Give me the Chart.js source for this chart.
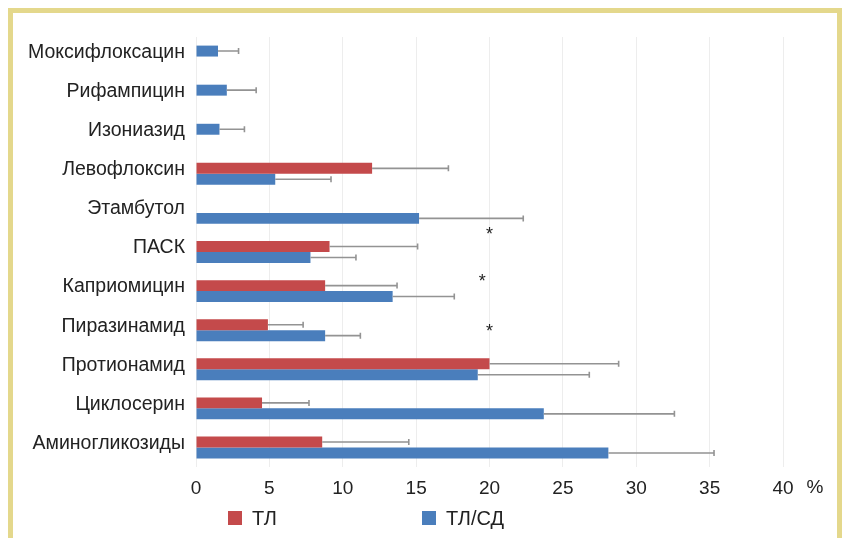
<!DOCTYPE html>
<html>
<head>
<meta charset="utf-8">
<script src="https://cdn.jsdelivr.net/npm/chart.js@4"></script>
<style>
  html, body { margin: 0; padding: 0; width: 843px; height: 538px; overflow: hidden; background: #fff; }
  .frame { position: absolute; left: 8px; top: 8px; width: 834px; height: 600px; border: 5px solid #e4d88c; box-sizing: border-box; }
  #wrap { position: absolute; left: 0; top: 0; width: 843px; height: 538px; }
</style>
</head>
<body>
<div class="frame"></div>
<div id="wrap"><canvas id="chart" width="843" height="538"></canvas></div>
<script>
// Drug categories, top to bottom
const categories = ['Моксифлоксацин', 'Рифампицин', 'Изониазид', 'Левофлоксин', 'Этамбутол', 'ПАСК',
  'Каприомицин', 'Пиразинамид', 'Протионамид', 'Циклосерин', 'Аминогликозиды'];

// ТЛ group: mean % and standard deviation (null = not reported)
const tlValues = [null, null, null, 12.0, 0, 9.1, 8.8, 4.9, 20.0, 4.5, 8.6];
const tlErrors = [null, null, null, 5.2, null, 6.0, 4.9, 2.4, 8.8, 3.2, 5.9];

// ТЛ/СД group: mean % and standard deviation
const tlsdValues = [1.5, 2.1, 1.6, 5.4, 15.2, 7.8, 13.4, 8.8, 19.2, 23.7, 28.1];
const tlsdErrors = [1.4, 2.0, 1.7, 3.8, 7.1, 3.1, 4.2, 2.4, 7.6, 8.9, 7.2];

// x axis ticks
const xTicks = [0, 5, 10, 15, 20, 25, 30, 35, 40];

// Categories flagged as significantly different
const markedCategories = ['ПАСК', 'Каприомицин', 'Пиразинамид'];

const RED = '#c44a4b';
const BLUE = '#4a7ebc';
const FONT = "'Liberation Sans', Arial, sans-serif";

// Where ТЛ was not reported, the ТЛ/СД bar takes the upper slot
const tlsdLower = tlsdValues.map((v, i) => tlValues[i] === null ? null : v);
const tlsdUpper = tlsdValues.map((v, i) => tlValues[i] === null ? v : null);

const errorBars = {
  id: 'errorBars',
  afterDatasetsDraw(chart) {
    const ctx = chart.ctx;
    const xs = chart.scales.x;
    ctx.save();
    ctx.strokeStyle = '#939393';
    ctx.lineWidth = 1.6;
    chart.data.datasets.forEach((ds, di) => {
      const meta = chart.getDatasetMeta(di);
      meta.data.forEach((el, j) => {
        const v = ds.data[j];
        const e = ds.errors[j];
        if (v === null || e === null || e === undefined) return;
        const x1 = xs.getPixelForValue(v + e);
        ctx.beginPath();
        ctx.moveTo(el.x, el.y);
        ctx.lineTo(x1, el.y);
        ctx.moveTo(x1, el.y - 3);
        ctx.lineTo(x1, el.y + 3);
        ctx.stroke();
      });
    });
    ctx.restore();
  }
};

const extras = {
  id: 'extras',
  afterDraw(chart, args, opts) {
    const ctx = chart.ctx;
    const xs = chart.scales.x;
    const ys = chart.scales.y;
    const area = chart.chartArea;
    const step = ys.getPixelForValue(1) - ys.getPixelForValue(0);
    ctx.save();
    // significance marks
    ctx.fillStyle = '#222';
    ctx.font = '18px ' + FONT;
    ctx.textAlign = 'center';
    ctx.textBaseline = 'middle';
    opts.marks.forEach(m => {
      const idx = categories.indexOf(m.category);
      ctx.fillText('*', xs.getPixelForValue(m.at), ys.getPixelForValue(idx) + m.shift * step + 4);
    });
    // unit sign after the last tick
    ctx.font = '19px ' + FONT;
    ctx.fillStyle = '#222';
    ctx.fillText('%', xs.right + 32, area.bottom + 21);
    // legend
    ctx.textAlign = 'left';
    ctx.font = '20px ' + FONT;
    opts.legend.forEach(item => {
      const ds = chart.data.datasets[item.dataset];
      const x = area.left + item.offset;
      const y = area.bottom + 44;
      ctx.fillStyle = ds.backgroundColor;
      ctx.fillRect(x, y, 14, 14);
      ctx.fillStyle = '#222';
      ctx.fillText(ds.label, x + 24, y + 8);
    });
    ctx.restore();
  }
};

new Chart(document.getElementById('chart'), {
  type: 'bar',
  data: {
    labels: categories,
    datasets: [
      { label: 'ТЛ', data: tlValues, errors: tlErrors, backgroundColor: RED, stack: 'upper' },
      { label: 'ТЛ/СД', data: tlsdLower, errors: tlsdErrors, backgroundColor: BLUE, stack: 'lower' },
      { label: 'ТЛ/СД', data: tlsdUpper, errors: tlsdErrors, backgroundColor: BLUE, stack: 'upper' }
    ]
  },
  options: {
    indexAxis: 'y',
    responsive: false,
    animation: false,
    devicePixelRatio: 1,
    barPercentage: 1,
    categoryPercentage: 0.56,
    layout: { padding: { left: 10, right: 60, top: 37, bottom: 41 } },
    scales: {
      x: {
        stacked: true,
        min: 0,
        max: 40,
        afterBuildTicks(scale) { scale.ticks = xTicks.map(v => ({ value: v })); },
        afterFit(scale) { scale.height = 30; },
        grid: { color: '#ededed', lineWidth: 1, drawTicks: false },
        border: { display: false },
        ticks: { color: '#222', padding: 10, font: { family: FONT, size: 19 } }
      },
      y: {
        stacked: true,
        afterFit(scale) { scale.width = 186; },
        grid: { display: false, drawTicks: false },
        border: { display: false },
        ticks: { color: '#222', padding: 11, labelOffset: -4, font: { family: FONT, size: 19.5 } }
      }
    },
    plugins: {
      legend: { display: false },
      tooltip: { enabled: false },
      extras: {
        marks: [
          { category: 'ПАСК', at: 20, shift: -0.54 },
          { category: 'Каприомицин', at: 19.5, shift: -0.33 },
          { category: 'Пиразинамид', at: 20, shift: -0.06 }
        ].filter(m => markedCategories.includes(m.category)),
        legend: [
          { dataset: 0, offset: 32 },
          { dataset: 1, offset: 226 }
        ]
      }
    }
  },
  plugins: [errorBars, extras]
});
</script>
</body>
</html>
